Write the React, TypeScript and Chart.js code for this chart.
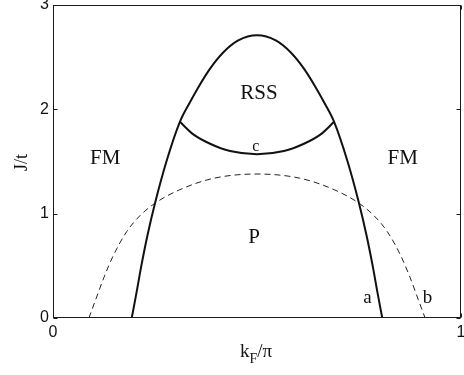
import React, { useEffect, useRef } from "react";
import { Chart, registerables } from "chart.js";

Chart.register(...registerables);

// Phase boundaries in the (k_F/π, J/t) plane
const outerKF = [0.193, 0.205, 0.216, 0.232, 0.25, 0.278, 0.311, 0.336, 0.356, 0.385, 0.416, 0.454, 0.5, 0.546, 0.584, 0.615, 0.644, 0.664, 0.689, 0.722, 0.75, 0.768, 0.784, 0.795, 0.807];
const outerJ = [0, 0.25, 0.49, 0.8, 1.1, 1.5, 1.88, 2.07, 2.21, 2.39, 2.54, 2.66, 2.71, 2.66, 2.54, 2.39, 2.21, 2.07, 1.88, 1.5, 1.1, 0.8, 0.49, 0.25, 0];

const innerKF = [0.311, 0.344, 0.385, 0.434, 0.5, 0.566, 0.615, 0.656, 0.689];
const innerJ = [1.88, 1.76, 1.67, 1.6, 1.57, 1.6, 1.67, 1.76, 1.88];

const dashKF = [0.088, 0.105, 0.125, 0.148, 0.181, 0.213, 0.25, 0.311, 0.395, 0.5, 0.605, 0.689, 0.75, 0.787, 0.819, 0.852, 0.875, 0.895, 0.912];
const dashJ = [0, 0.18, 0.39, 0.6, 0.83, 0.98, 1.1, 1.23, 1.34, 1.38, 1.34, 1.23, 1.1, 0.98, 0.83, 0.6, 0.39, 0.18, 0];

const xTicks = [0, 1];
const yTicks = [0, 1, 2, 3];

// Region names and curve tags: [text, k_F/π, J/t, font size]
const regionLabels: [string, number, number, number][] = [
  ["FM", 0.128, 1.48, 21],
  ["FM", 0.857, 1.48, 21],
  ["RSS", 0.505, 2.1, 21],
  ["P", 0.493, 0.72, 21],
  ["c", 0.497, 1.6, 16],
  ["a", 0.771, 0.14, 19],
  ["b", 0.918, 0.14, 19],
];

const toPts = (xs: number[], ys: number[]) => xs.map((x, i) => ({ x, y: ys[i] }));

const SERIF = "'Liberation Serif', 'Times New Roman', serif";
const SANS = "'Liberation Sans', Arial, sans-serif";

const framePlugin = {
  id: "frame",
  afterDatasetsDraw(chart: any) {
    const { ctx, chartArea: a, scales } = chart;
    const xs = scales.x;
    const ys = scales.y;
    ctx.save();
    // axes box
    ctx.strokeStyle = "#1a1a1a";
    ctx.lineWidth = 1;
    const L = Math.round(a.left) + 0.5;
    const R = Math.round(a.right) - 0.5;
    const T = Math.round(a.top) + 0.5;
    const B = Math.round(a.bottom) - 0.5;
    ctx.strokeRect(L, T, R - L, B - T);
    // inward tick marks on both sides
    ctx.beginPath();
    for (const v of yTicks) {
      const py = Math.round(ys.getPixelForValue(v)) + 0.5;
      ctx.moveTo(L, py);
      ctx.lineTo(L + 4, py);
      ctx.moveTo(R, py);
      ctx.lineTo(R - 4, py);
    }
    for (const v of xTicks) {
      const px = Math.round(xs.getPixelForValue(v)) + 0.5;
      ctx.moveTo(px, B);
      ctx.lineTo(px, B - 4);
      ctx.moveTo(px, T);
      ctx.lineTo(px, T + 4);
    }
    ctx.stroke();

    // region labels
    ctx.fillStyle = "#111";
    ctx.textAlign = "center";
    ctx.textBaseline = "alphabetic";
    for (const [t, kx, jy, size] of regionLabels) {
      ctx.font = `${size}px ${SERIF}`;
      ctx.fillText(t, xs.getPixelForValue(kx), ys.getPixelForValue(jy));
    }

    // y-axis title
    ctx.save();
    ctx.translate(27, (a.top + a.bottom) / 2 + 1);
    ctx.rotate(-Math.PI / 2);
    ctx.font = `18px ${SERIF}`;
    ctx.textAlign = "center";
    ctx.fillText("J/t", 0, 0);
    ctx.restore();

    // x-axis title with subscript: k_F/π
    const cx = (a.left + a.right) / 2;
    ctx.textAlign = "left";
    ctx.font = `19px ${SERIF}`;
    const kW = ctx.measureText("k").width;
    ctx.font = `14px ${SERIF}`;
    const fW = ctx.measureText("F").width;
    ctx.font = `19px ${SERIF}`;
    const restW = ctx.measureText("/π").width;
    let x0 = cx - (kW + fW + restW) / 2 - 1;
    ctx.font = `19px ${SERIF}`;
    ctx.fillText("k", x0, 357);
    x0 += kW;
    ctx.font = `14px ${SERIF}`;
    ctx.fillText("F", x0, 363);
    x0 += fW;
    ctx.font = `19px ${SERIF}`;
    ctx.fillText("/π", x0, 357);
    ctx.restore();
  },
};

export default function App() {
  const ref = useRef<HTMLCanvasElement | null>(null);

  useEffect(() => {
    document.body.style.margin = "0";
    const canvas = ref.current;
    if (!canvas) return;
    const line = {
      showLine: true,
      pointRadius: 0,
      cubicInterpolationMode: "monotone",
    };
    const chart = new Chart(canvas, {
      type: "scatter",
      data: {
        datasets: [
          { ...line, data: toPts(outerKF, outerJ), borderColor: "#111", borderWidth: 2 },
          { ...line, data: toPts(innerKF, innerJ), borderColor: "#111", borderWidth: 2 },
          {
            ...line,
            data: toPts(dashKF, dashJ),
            borderColor: "#222",
            borderWidth: 1,
            borderDash: [6, 4],
          },
        ],
      },
      options: {
        responsive: false,
        animation: false,
        events: [],
        layout: { padding: { top: 5, right: 3, left: 0, bottom: 0 } },
        plugins: { legend: { display: false }, tooltip: { enabled: false } },
        scales: {
          x: {
            type: "linear",
            min: 0,
            max: 1,
            grid: { display: false, drawTicks: false, tickLength: 0 },
            border: { display: false },
            afterBuildTicks: (s: any) => {
              s.ticks = xTicks.map((v) => ({ value: v }));
            },
            afterFit: (s: any) => {
              s.height = 57;
              s.paddingLeft = 0;
              s.paddingRight = 0;
            },
            ticks: {
              color: "#111",
              font: { family: SANS, size: 16 },
              padding: 5,
              maxRotation: 0,
              autoSkip: false,
            },
          },
          y: {
            type: "linear",
            min: 0,
            max: 3,
            grid: { display: false, drawTicks: false, tickLength: 0 },
            border: { display: false },
            afterBuildTicks: (s: any) => {
              s.ticks = yTicks.map((v) => ({ value: v }));
            },
            afterFit: (s: any) => {
              s.width = 53;
              s.paddingTop = 0;
              s.paddingBottom = 0;
            },
            ticks: {
              color: "#111",
              font: { family: SANS, size: 16 },
              padding: 4,
              autoSkip: false,
            },
          },
        },
      },
      plugins: [framePlugin],
    } as any);
    return () => chart.destroy();
  }, []);

  return (
    <div style={{ position: "relative", width: 464, height: 375 }}>
      <canvas ref={ref} width={464} height={375} style={{ display: "block" }} />
    </div>
  );
}
